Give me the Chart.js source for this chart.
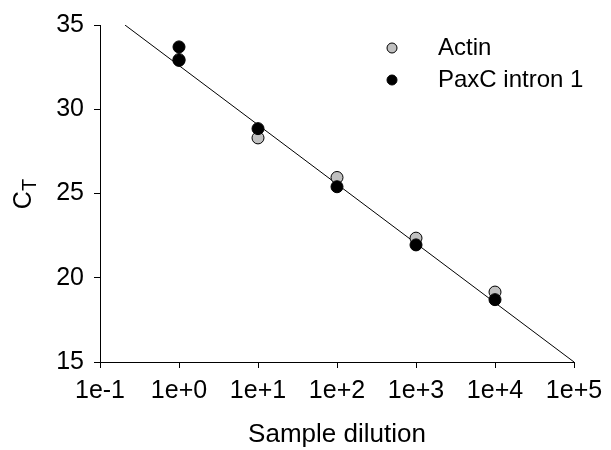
<!DOCTYPE html>
<html>
<head>
<meta charset="utf-8">
<script src="https://cdn.jsdelivr.net/npm/chart.js@4.4.1/dist/chart.umd.min.js"></script>
<style>
  body { margin: 0; background: #fff; }
  canvas { display: block; }
</style>
</head>
<body>
<canvas id="ctChart" width="611" height="450"></canvas>
<script>
// Данные: разведения и значения CT
const actinDilution = [1, 10, 100, 1000, 10000];
const actinCt = [32.95, 28.3, 25.95, 22.35, 19.15];

const paxcDilution = [1, 1, 10, 100, 1000, 10000];
const paxcCt = [33.7, 32.9, 28.85, 25.4, 21.95, 18.7];

// Линия аппроксимации (концы)
const fitDilution = [0.207, 100000];
const fitCt = [35, 15];

const xTickValues = [0.1, 1, 10, 100, 1000, 10000, 100000];
const xTickLabels = ['1e-1', '1e+0', '1e+1', '1e+2', '1e+3', '1e+4', '1e+5'];
const yTicks = [15, 20, 25, 30, 35];

const FONT = 'Liberation Sans, Arial, sans-serif';

function toPoints(xs, ys) {
    return xs.map((x, i) => ({ x: x, y: ys[i] }));
}

// Подпись оси Y (C с нижним индексом T) и легенда
const extrasPlugin = {
    id: 'extras',
    afterDraw(chart) {
        const ctx = chart.ctx;
        ctx.save();
        ctx.fillStyle = '#000';

        // C_T
        ctx.translate(31, 194);
        ctx.rotate(-Math.PI / 2);
        ctx.font = '25px ' + FONT;
        ctx.textBaseline = 'alphabetic';
        ctx.textAlign = 'left';
        const cw = ctx.measureText('C').width;
        const tw = ctx.measureText('T').width * 0.8;
        const start = -(cw + tw) / 2;
        ctx.fillText('C', start, 0);
        ctx.font = '20px ' + FONT;
        ctx.fillText('T', start + cw, 5);
        ctx.restore();

        // легенда
        const items = [
            { label: 'Actin', fill: '#c0c0c0', y: 48 },
            { label: 'PaxC intron 1', fill: '#000', y: 80 }
        ];
        ctx.save();
        ctx.font = '24px ' + FONT;
        ctx.textBaseline = 'middle';
        ctx.textAlign = 'left';
        items.forEach(it => {
            ctx.beginPath();
            ctx.arc(392, it.y, 5, 0, Math.PI * 2);
            ctx.fillStyle = it.fill;
            ctx.fill();
            ctx.lineWidth = 1;
            ctx.strokeStyle = '#000';
            ctx.stroke();
            ctx.fillStyle = '#000';
            ctx.fillText(it.label, 438, it.y);
        });
        ctx.restore();
    }
};

const ctx = document.getElementById('ctChart').getContext('2d');
new Chart(ctx, {
    type: 'scatter',
    data: {
        datasets: [
            {
                label: 'PaxC intron 1',
                data: toPoints(paxcDilution, paxcCt),
                backgroundColor: '#000',
                borderColor: '#000',
                borderWidth: 1,
                pointRadius: 6,
                order: 0
            },
            {
                label: 'Actin',
                data: toPoints(actinDilution, actinCt),
                backgroundColor: '#c0c0c0',
                borderColor: '#000',
                borderWidth: 1,
                pointRadius: 6,
                order: 1
            },
            {
                type: 'line',
                label: 'fit',
                data: toPoints(fitDilution, fitCt),
                borderColor: '#000',
                borderWidth: 1,
                pointRadius: 0,
                fill: false,
                order: 2
            }
        ]
    },
    options: {
        responsive: false,
        animation: false,
        layout: { padding: { left: 0, top: 25, right: 37, bottom: 0 } },
        plugins: {
            legend: { display: false },
            tooltip: { enabled: false }
        },
        scales: {
            x: {
                type: 'logarithmic',
                min: 0.1,
                max: 100000,
                afterFit(scale) { scale.height = 88; },
                afterBuildTicks(scale) {
                    scale.ticks = xTickValues.map(v => ({ value: v }));
                },
                grid: { drawOnChartArea: false, drawTicks: true, tickLength: 6, color: '#000' },
                border: { color: '#000', width: 1 },
                ticks: {
                    color: '#000',
                    font: { family: FONT, size: 25 },
                    padding: 8,
                    maxRotation: 0,
                    autoSkip: false,
                    callback: function (value) {
                        const i = xTickValues.indexOf(value);
                        return i >= 0 ? xTickLabels[i] : '';
                    }
                },
                title: {
                    display: true,
                    text: 'Sample dilution',
                    color: '#000',
                    font: { family: FONT, size: 26 },
                    padding: { top: 0, bottom: 0 }
                }
            },
            y: {
                min: 15,
                max: 35,
                afterFit(scale) { scale.width = 100; },
                afterBuildTicks(scale) {
                    scale.ticks = yTicks.map(v => ({ value: v }));
                },
                grid: { drawOnChartArea: false, drawTicks: true, tickLength: 6, color: '#000' },
                border: { color: '#000', width: 1 },
                ticks: {
                    color: '#000',
                    font: { family: FONT, size: 25 },
                    padding: 10
                }
            }
        }
    },
    plugins: [extrasPlugin]
});
</script>
</body>
</html>
